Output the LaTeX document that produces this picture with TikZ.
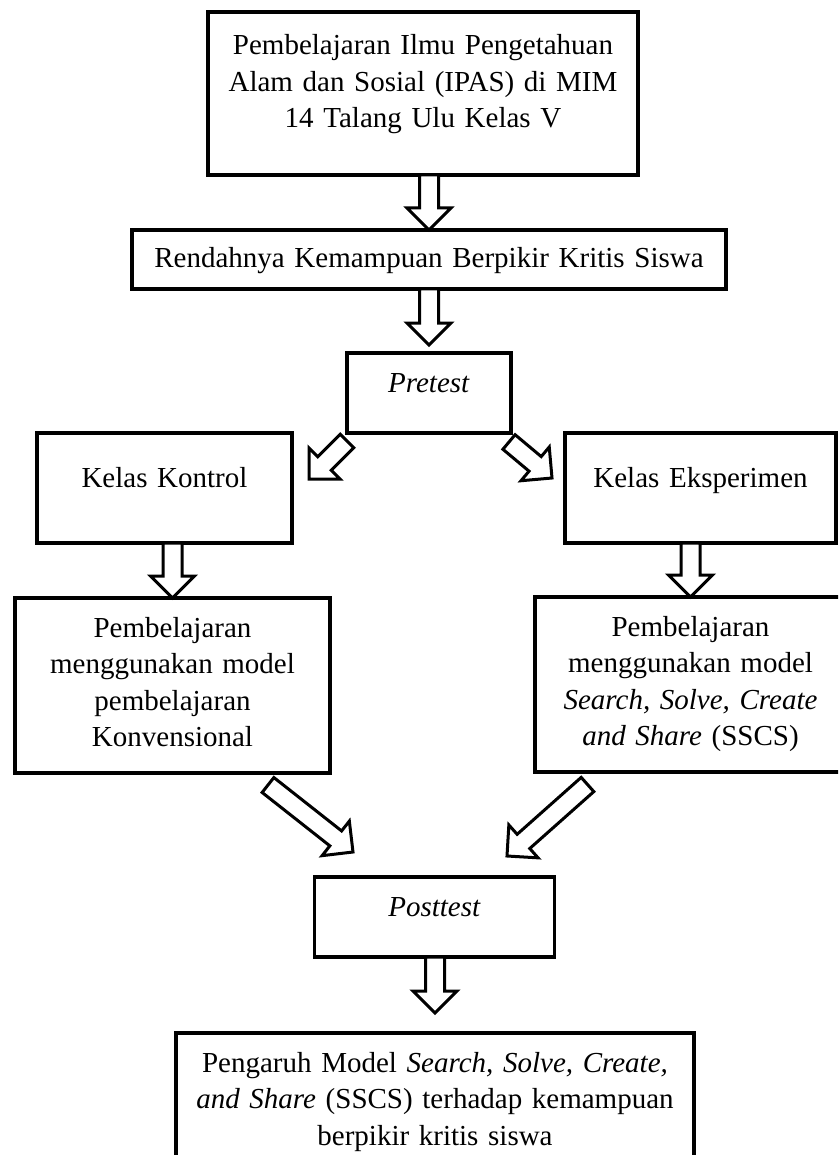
\documentclass[tikz,border=0pt]{standalone}
\usepackage{fontspec}
\setmainfont{Liberation Serif}
\usetikzlibrary{calc}
\tikzset{
	kotak/.style={draw, rectangle, line width=3.5pt, inner sep=0pt, outer sep=0pt,
		align=center, anchor=north, text height=39pt,
		font=\fontsize{29}{36.5}\selectfont},
	panah/.style={draw, line width=3pt, fill=white, line join=miter}
}
\newcommand{\blokpanah}[2]{%
	\coordinate (hp) at ($(#2)!22pt!(#1)$);
	\draw[panah] ($(#1)!9.5pt!90:(#2)$) -- ($(hp)!9.5pt!90:(#2)$) -- ($(hp)!22pt!90:(#2)$)
		-- (#2) -- ($(hp)!22pt!-90:(#2)$) -- ($(hp)!9.5pt!-90:(#2)$) -- ($(#1)!9.5pt!-90:(#2)$) -- cycle;
}

\begin{document}
\begin{tikzpicture}[x=1pt, y=-1pt]
	\useasboundingbox (0,0) rectangle (838,1155);
	\clip (0,0) rectangle (838,1155);
	\node[kotak, text width=430pt, text height=43pt, text depth=120pt] (ipas) at (423,12)
		{Pembelajaran Ilmu Pengetahuan\\Alam dan Sosial (IPAS) di MIM\\14 Talang Ulu Kelas V};
	\node[kotak, text width=594pt, text height=38pt, text depth=21pt] (rendah) at (429,230)
		{Rendahnya Kemampuan Berpikir Kritis Siswa};
	\node[kotak, text width=164pt, text depth=41pt] (pre) at (429,353) {\textit{Pretest}};
	\node[kotak, text width=255pt, text height=54pt, text depth=56pt] (kontrol) at (164.5,433) {Kelas Kontrol};
	\node[kotak, text width=271pt, text height=54pt, text depth=56pt] (eksp) at (700.5,433) {Kelas Eksperimen};
	\node[kotak, text width=315pt, text depth=136pt] (konv) at (172.5,598)
		{Pembelajaran\\menggunakan model\\pembelajaran\\Konvensional};
	\node[kotak, text width=311pt, text depth=136pt] (sscs) at (690.5,597)
		{Pembelajaran\\menggunakan model\\\textit{Search, Solve, Create}\\\textit{and Share} (SSCS)};
	\node[kotak, text width=240pt, text depth=41pt] (post) at (434.5,877) {\textit{Posttest}};
	\node[kotak, text width=518pt, text depth=125pt] (hasil) at (435,1033)
		{Pengaruh Model \textit{Search, Solve, Create,}\\\textit{and Share} (SSCS) terhadap kemampuan\\berpikir kritis siswa};

	\coordinate (a1) at (rendah.north |- ipas.south);
	\coordinate (b2) at ($(pre.north)+(0,-8)$);
	\coordinate (a3) at ($(pre.south west)+(0,8)$);
	\coordinate (b3) at ($(kontrol.north east)+(17,46)$);
	\coordinate (a4) at ($(pre.south east)+(-2,9)$);
	\coordinate (b4) at ($(eksp.north west)+(-13,45)$);
	\coordinate (a5) at (konv.north |- kontrol.south);
	\coordinate (a6) at (sscs.north |- eksp.south);
	\coordinate (a7) at ($(konv.south east)+(-62,12)$);
	\coordinate (b7) at ($(post.north west)+(38.5,-25)$);
	\coordinate (a8) at ($(sscs.south west)+(52.5,12.5)$);
	\coordinate (b8) at ($(post.north east)+(-47.5,-21)$);
	\coordinate (b9) at ($(hasil.north)+(0,-20)$);
	\coordinate (a9) at (b9 |- post.south);

	\blokpanah{a1}{rendah.north}
	\blokpanah{rendah.south}{b2}
	\blokpanah{a3}{b3}
	\blokpanah{a4}{b4}
	\blokpanah{a5}{konv.north}
	\blokpanah{a6}{sscs.north}
	\blokpanah{a7}{b7}
	\blokpanah{a8}{b8}
	\blokpanah{a9}{b9}
\end{tikzpicture}
\end{document}
